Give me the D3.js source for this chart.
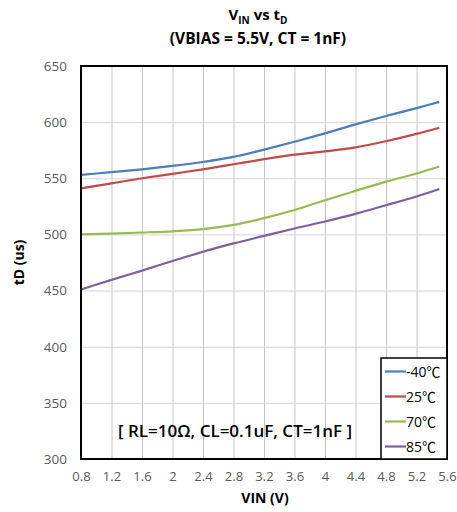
<!DOCTYPE html>
<html>
<head>
<meta charset="utf-8">
<script src="https://cdn.jsdelivr.net/npm/d3@7"></script>
<style>
 body { margin:0; background:#fff; }
 svg text { font-family: "Open Sans", Lato, sans-serif; }
</style>
</head>
<body>
<div id="chart"></div>
<script>
// Data
var vin = [0.8, 1.2, 1.6, 2.0, 2.4, 2.8, 3.2, 3.6, 4.0, 4.4, 4.8, 5.2, 5.5];
var tdM40 = [553, 555.5, 558, 561, 564.5, 569, 575.5, 582.5, 590, 598, 605.5, 612.5, 618];
var td25  = [541, 545.5, 550, 554, 558, 562.5, 567, 571, 574, 577.5, 583, 589.5, 595];
var td70  = [500, 500.8, 501.7, 502.8, 504.7, 508.5, 514.5, 521.8, 530.5, 538.8, 547, 554.3, 560.5];
var td85  = [451, 459.5, 467.8, 476.3, 484.6, 492, 498.7, 505.3, 511.5, 518.3, 526, 533.8, 540.5];
var seriesNames = ["-40\u2103", "25\u2103", "70\u2103", "85\u2103"];
var seriesColors = ["#4a7ebb", "#be4b48", "#98b954", "#7d60a0"];
var xTicks = [0.8, 1.2, 1.6, 2, 2.4, 2.8, 3.2, 3.6, 4, 4.4, 4.8, 5.2, 5.6];
var yTicks = [300, 350, 400, 450, 500, 550, 600, 650];

var W = 457, H = 512;
var margin = {top: 66, right: 10, bottom: 53, left: 81};
var width = W - margin.left - margin.right;   // 366
var height = H - margin.top - margin.bottom;  // 393

var svg = d3.select("#chart").append("svg")
  .attr("width", W).attr("height", H);

var xScale = d3.scaleLinear().domain([0.8, 5.6]).range([0, width]);
var yScale = d3.scaleLinear().domain([300, 650]).range([height, 0]);

var g = svg.append("g")
  .attr("transform", "translate(" + margin.left + "," + margin.top + ")");

// grid
g.append("g")
  .call(d3.axisBottom(xScale).tickValues(xTicks).tickSize(height).tickFormat(""))
  .call(a => a.select(".domain").remove())
  .selectAll("line").attr("stroke", "#c4c4c4");
g.append("g")
  .call(d3.axisLeft(yScale).tickValues(yTicks).tickSize(-width).tickFormat(""))
  .call(a => a.select(".domain").remove())
  .selectAll("line").attr("stroke", "#d4d4d4");

// tick labels
g.append("g")
  .attr("transform", "translate(0," + height + ")")
  .call(d3.axisBottom(xScale).tickValues(xTicks).tickSize(0).tickPadding(13)
    .tickFormat(d => String(+d.toFixed(1))))
  .call(a => a.select(".domain").remove())
  .selectAll("text").attr("font-size", 13).attr("fill", "#595959")
  .style("font-family", "'Open Sans', sans-serif");
g.append("g")
  .call(d3.axisLeft(yScale).tickValues(yTicks).tickSize(0).tickPadding(14))
  .call(a => a.select(".domain").remove())
  .selectAll("text").attr("font-size", 13.5).attr("fill", "#595959")
  .style("font-family", "'Open Sans', sans-serif");

// lines
var allSeries = [tdM40, td25, td70, td85];
var line = d3.line()
  .x((d, i) => xScale(vin[i]))
  .y(d => yScale(d))
  .curve(d3.curveCatmullRom.alpha(0.5));

allSeries.forEach(function(s, k) {
  g.append("path")
    .datum(s)
    .attr("fill", "none")
    .attr("stroke", seriesColors[k])
    .attr("stroke-width", 2.2)
    .attr("d", line);
});

// annotation
g.append("text")
  .attr("x", 37).attr("y", yScale(320))
  .attr("font-size", 17).attr("font-weight", 600).attr("fill", "#000")
  .text("[ RL=10\u03A9, CL=0.1uF, CT=1nF ]");

// plot border
g.append("rect")
  .attr("width", width).attr("height", height)
  .attr("fill", "none").attr("stroke", "#000").attr("stroke-width", 2);

// legend
var lg = g.append("g").attr("transform", "translate(" + (width - 66) + "," + (height - 101) + ")");
lg.append("rect").attr("width", 66).attr("height", 101)
  .attr("fill", "#fff").attr("stroke", "#000").attr("stroke-width", 1.5);
seriesNames.forEach(function(n, k) {
  var yy = 13.5 + k * 25;
  lg.append("line").attr("x1", 4).attr("x2", 25).attr("y1", yy).attr("y2", yy)
    .attr("stroke", seriesColors[k]).attr("stroke-width", 2.2);
  var t = lg.append("text").attr("x", 25).attr("y", yy + 5)
    .attr("font-size", 14).attr("fill", "#000");
  t.append("tspan").text(n.slice(0, -1));
  t.append("tspan").style("font-family", "'Noto Sans CJK SC', sans-serif")
    .attr("font-size", 14).text(n.slice(-1));
});

// titles
var t1 = svg.append("text").attr("x", 258).attr("y", 20)
  .attr("text-anchor", "middle").attr("font-size", 15).attr("font-weight", 700);
t1.append("tspan").text("V");
t1.append("tspan").attr("font-size", 10).attr("dy", 4).text("IN");
t1.append("tspan").attr("dy", -4).text(" vs t");
t1.append("tspan").attr("font-size", 10).attr("dy", 4).text("D");
svg.append("text").attr("x", 258).attr("y", 44)
  .attr("text-anchor", "middle").attr("font-size", 15.5).attr("font-weight", 700)
  .text("(VBIAS = 5.5V, CT = 1nF)");

svg.append("text").attr("x", 265).attr("y", 503)
  .attr("text-anchor", "middle").attr("font-size", 14).attr("font-weight", 700)
  .text("VIN (V)");
svg.append("text")
  .attr("transform", "translate(24," + (margin.top + height / 2) + ") rotate(-90)")
  .attr("text-anchor", "middle").attr("font-size", 14).attr("font-weight", 700)
  .text("tD (us)");
</script>
</body>
</html>
